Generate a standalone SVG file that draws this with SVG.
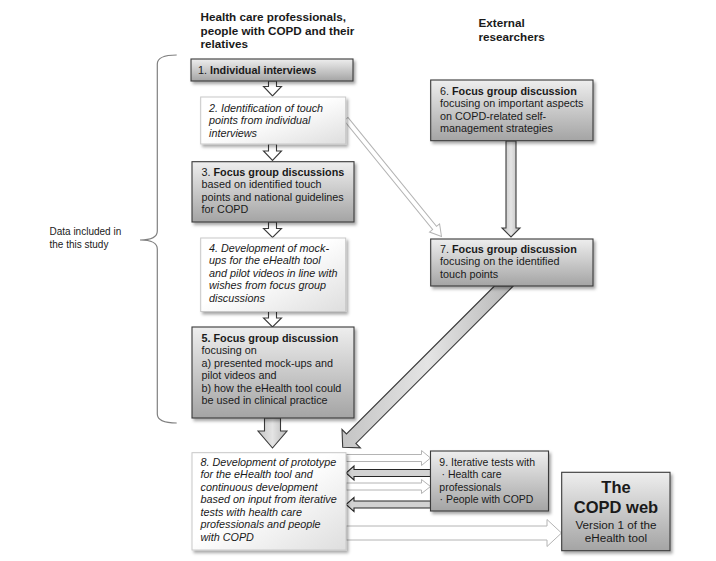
<svg xmlns="http://www.w3.org/2000/svg" width="716" height="561" viewBox="0 0 716 561">
<defs>
<linearGradient id="gGray" x1="0" y1="0" x2="0" y2="1">
<stop offset="0" stop-color="#eeeeee"/>
<stop offset="1" stop-color="#a4a4a4"/>
</linearGradient>
<linearGradient id="gWhite" x1="0" y1="0" x2="1" y2="1">
<stop offset="0.45" stop-color="#ffffff"/>
<stop offset="1" stop-color="#dedede"/>
</linearGradient>
<linearGradient id="gArrow" x1="0" y1="0" x2="1" y2="0">
<stop offset="0" stop-color="#c4c4c4"/>
<stop offset="0.5" stop-color="#e4e4e4"/>
<stop offset="1" stop-color="#b8b8b8"/>
</linearGradient>
<filter id="sh" x="-10%" y="-10%" width="130%" height="140%">
<feDropShadow dx="2" dy="2.5" stdDeviation="1.6" flood-color="#000" flood-opacity="0.35"/>
</filter>
</defs>
<style>
text{font-family:"Liberation Sans",Arial,sans-serif;fill:#1a1a1a;font-size:10.8px}
.hd{font-weight:bold;font-size:11.7px}
.b{font-weight:bold}
.it{font-style:italic}
.gray{fill:url(#gGray);stroke:#3a3a3a;stroke-width:1.1;filter:url(#sh)}
.white{fill:url(#gWhite);stroke:#c8c8c8;stroke-width:1;filter:url(#sh)}
.sa{fill:#ffffff;stroke:#3a3a3a;stroke-width:1.1}
.ga{fill:url(#gArrow);stroke:#3a3a3a;stroke-width:1.1}
.wa{fill:#ffffff;stroke:#b4b4b4;stroke-width:1}
.da{fill:#d2d2d2;stroke:#262626;stroke-width:1.1}
.brace{fill:none;stroke:#808080;stroke-width:1.2}
</style>
<rect width="716" height="561" fill="#ffffff"/>

<g id="headers">
<text class="hd" x="200.5" y="20.5">Health care professionals,</text>
<text class="hd" x="200.5" y="34.5">people with COPD and their</text>
<text class="hd" x="200.5" y="48">relatives</text>
<text class="hd" x="478.5" y="27">External</text>
<text class="hd" x="478.5" y="40.5">researchers</text>
</g>

<g id="brace">
<path class="brace" d="M176.7,55 Q157.3,55 157.3,64 L157.3,231 Q157.3,240 140,240 Q157.3,240 157.3,249 L157.3,414 Q157.3,423 176.7,423"/>
<text x="49.5" y="235" style="font-size:10px">Data included in</text>
<text x="49.5" y="248.3" style="font-size:10px">the this study</text>
</g>

<g id="connectors">
<path class="sa" d="M268.5,81 H276.5 V86.5 H281.5 L272.5,96 L263.5,86.5 H268.5 Z"/>
<path class="sa" d="M268.5,144 H276.5 V151 H281.5 L272.5,160.5 L263.5,151 H268.5 Z"/>
<path class="sa" d="M268.5,222 H276.5 V228.5 H281.5 L272.5,237.5 L263.5,228.5 H268.5 Z"/>
<path class="sa" d="M268.5,311.5 H276.5 V318 H281.5 L272.5,327 L263.5,318 H268.5 Z"/>
<path class="ga" d="M264.5,418 H280.5 V431 H287 L272.5,448 L258,431 H264.5 Z"/>
<path class="ga" d="M506,141 H516 V228 H520 L511,237 L502,228 H506 Z"/>
<path class="ga" d="M494.5,286 L346.5,434 L342,429.5 L342.7,447.2 L360.4,447.9 L355.9,443.4 L513.3,286 Z"/>
<path class="wa" transform="translate(346,119) rotate(50.9)" d="M0,-2.5 H140.4 V-6.5 L151.4,0 L140.4,6.5 V2.5 H0 Z"/>
<path class="wa" d="M346,454.5 H421.5 V450.5 L430.5,458 L421.5,465.5 V461.5 H346 Z"/>
<path class="da" d="M430.5,469.5 H354 V466 L346,473 L354,480 V476.5 H430.5 Z"/>
<path class="wa" d="M346,483 H421.5 V479.5 L430.5,486.5 L421.5,493.5 V490 H346 Z"/>
<path class="da" d="M430.5,501 H354 V497.5 L346,504.5 L354,511.5 V508 H430.5 Z"/>
<path class="wa" d="M346,526 H547 V519.5 L561.5,533 L547,546.5 V540 H346 Z"/>
</g>

<g id="n1">
<rect class="gray" x="191" y="59" width="162" height="22"/>
<text x="198" y="74">1. <tspan class="b">Individual interviews</tspan></text>
</g>

<g id="n2">
<rect class="white" x="200.7" y="97" width="145" height="47"/>
<text class="it" x="209" y="111.5">2. Identification of touch</text>
<text class="it" x="209" y="124">points from individual</text>
<text class="it" x="209" y="136.5">interviews</text>
</g>

<g id="n3">
<rect class="gray" x="192" y="161.7" width="162" height="60.3"/>
<text x="201.5" y="175.5">3. <tspan class="b">Focus group discussions</tspan></text>
<text x="201.5" y="188">based on identified touch</text>
<text x="201.5" y="200.5">points and national guidelines</text>
<text x="201.5" y="213">for COPD</text>
</g>

<g id="n4">
<rect class="white" x="200.7" y="238" width="145" height="73.5"/>
<text class="it" x="209" y="251.5">4. Development of mock-</text>
<text class="it" x="209" y="264">ups for the eHealth tool</text>
<text class="it" x="209" y="276.5">and pilot videos in line with</text>
<text class="it" x="209" y="289">wishes from focus group</text>
<text class="it" x="209" y="301.5">discussions</text>
</g>

<g id="n5">
<rect class="gray" x="192" y="327" width="162" height="91"/>
<text class="b" x="201.5" y="341.5">5. Focus group discussion</text>
<text x="201.5" y="354">focusing on</text>
<text x="201.5" y="366.5">a) presented mock-ups and</text>
<text x="201.5" y="379">pilot videos and</text>
<text x="201.5" y="391.5">b) how the eHealth tool could</text>
<text x="201.5" y="404">be used in clinical practice</text>
</g>

<g id="n6">
<rect class="gray" x="430.7" y="80" width="162.3" height="60.7"/>
<text x="440" y="94.5">6. <tspan class="b">Focus group discussion</tspan></text>
<text x="440" y="107">focusing on important aspects</text>
<text x="440" y="119.5">on COPD-related self-</text>
<text x="440" y="132">management strategies</text>
</g>

<g id="n7">
<rect class="gray" x="430.7" y="239" width="162.3" height="47"/>
<text x="440" y="252.5">7. <tspan class="b">Focus group discussion</tspan></text>
<text x="440" y="265">focusing on the identified</text>
<text x="440" y="277.5">touch points</text>
</g>

<g id="n8">
<rect class="white" x="192" y="452.7" width="154" height="97.3"/>
<text class="it" x="200.5" y="465.5">8. Development of prototype</text>
<text class="it" x="200.5" y="478">for the eHealth tool and</text>
<text class="it" x="200.5" y="490.5">continuous development</text>
<text class="it" x="200.5" y="503">based on input from iterative</text>
<text class="it" x="200.5" y="515.5">tests with health care</text>
<text class="it" x="200.5" y="528">professionals and people</text>
<text class="it" x="200.5" y="540.5">with COPD</text>
</g>

<g id="n9">
<rect class="gray" x="430.5" y="451" width="118" height="60"/>
<text x="439.3" y="465.5" style="font-size:10.5px">9. Iterative tests with</text>
<text x="441.5" y="478" style="font-size:10.5px">· Health care</text>
<text x="439.3" y="490.5" style="font-size:10.5px">professionals</text>
<text x="439.5" y="503" style="font-size:10.5px">· People with COPD</text>
</g>

<g id="n10">
<rect class="gray" x="561.7" y="472.3" width="108.3" height="78.4"/>
<text class="b" x="616" y="492.5" text-anchor="middle" style="font-size:16.5px">The</text>
<text class="b" x="616" y="512.5" text-anchor="middle" style="font-size:16.5px">COPD web</text>
<text x="616" y="529" text-anchor="middle" style="font-size:11.7px">Version 1 of the</text>
<text x="616" y="542.3" text-anchor="middle" style="font-size:11.7px">eHealth tool</text>
</g>
</svg>
